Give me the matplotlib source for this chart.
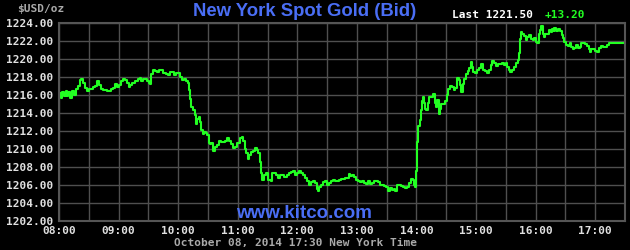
import matplotlib
matplotlib.use("Agg")
import matplotlib.pyplot as plt
import numpy as np

# minutes after 08:00 (New York time) and bid price
minutes = [0, 2, 3, 5, 7, 8, 9, 11, 13, 15, 17, 19, 21, 22, 24, 26, 28, 30, 32, 34,
           36, 38, 40, 42, 44, 46, 48, 50, 52, 54, 56, 58, 60, 62, 64, 66, 68, 70, 72, 74,
           77, 79, 80, 82, 83, 85, 87, 89, 91, 92, 93, 95, 97, 99, 101, 103, 105, 108, 110, 112,
           114, 116, 118, 120, 122, 124, 126, 128, 130, 131, 132, 133, 135, 137, 138, 139, 141, 142, 143, 145,
           146, 148, 149, 151, 152, 153, 155, 157, 159, 161, 163, 165, 167, 169, 171, 173, 175, 177, 179, 182,
           184, 185, 187, 188, 190, 191, 193, 195, 197, 199, 200, 202, 203, 204, 206, 208, 210, 212, 213, 215,
           217, 219, 221, 223, 225, 227, 230, 232, 234, 236, 238, 240, 242, 244, 246, 248, 250, 252, 254, 256,
           258, 260, 261, 262, 264, 266, 268, 270, 272, 274, 276, 278, 280, 282, 284, 286, 288, 290, 292, 293,
           295, 297, 299, 301, 303, 305, 307, 309, 311, 313, 315, 317, 319, 321, 323, 325, 327, 329, 331, 333,
           335, 337, 338, 340, 342, 344, 346, 348, 350, 352, 354, 356, 358, 359, 360, 361, 362, 363, 364, 365,
           366, 367, 368, 369, 370, 372, 373, 375, 377, 379, 380, 381, 383, 384, 385, 387, 389, 391, 392, 394,
           396, 398, 399, 401, 403, 404, 405, 407, 408, 410, 412, 413, 415, 416, 417, 419, 421, 423, 425, 427,
           429, 431, 433, 435, 436, 438, 440, 442, 444, 446, 448, 450, 451, 453, 454, 456, 458, 460, 462, 463,
           464, 465, 466, 468, 470, 471, 473, 475, 477, 478, 480, 481, 483, 484, 485, 487, 488, 489, 491, 493,
           495, 496, 498, 499, 501, 503, 505, 507, 508, 509, 511, 513, 515, 516, 518, 519, 521, 523, 525, 526,
           528, 530, 532, 534, 535, 536, 538, 540, 542, 544, 546, 548, 550, 552, 554, 556, 570]
price = [1216.20, 1215.60, 1216.30, 1215.85, 1216.40, 1215.85, 1216.30, 1215.60, 1216.45, 1216.00,
         1216.67, 1216.96, 1217.60, 1217.80, 1217.26, 1216.74, 1216.45, 1216.67, 1216.60, 1216.90,
         1216.96, 1217.50, 1217.10, 1216.60, 1216.50, 1216.50, 1216.37, 1216.45, 1216.67, 1216.80,
         1217.20, 1216.90, 1217.10, 1217.55, 1217.80, 1217.60, 1217.33, 1216.90, 1217.04, 1217.26,
         1217.55, 1217.55, 1217.80, 1217.90, 1217.50, 1217.80, 1217.70, 1217.50, 1217.33, 1217.20,
         1218.30, 1218.80, 1218.60, 1218.50, 1218.70, 1218.74, 1218.44, 1218.30, 1218.15, 1218.50,
         1218.50, 1218.20, 1218.44, 1218.37, 1218.00, 1217.63, 1217.70, 1217.55, 1217.26, 1216.50,
         1215.55, 1214.67, 1214.30, 1213.80, 1212.74, 1213.26, 1213.50, 1212.96, 1212.07, 1211.60,
         1211.85, 1211.78, 1211.50, 1210.67, 1210.50, 1210.67, 1209.70, 1210.20, 1210.44, 1210.90,
         1210.74, 1210.74, 1210.90, 1211.20, 1210.90, 1210.50, 1210.07, 1210.15, 1210.60, 1211.20,
         1211.33, 1210.90, 1210.00, 1209.48, 1208.90, 1209.33, 1209.63, 1209.78, 1210.07, 1209.85,
         1209.55, 1208.50, 1207.26, 1206.50, 1207.04, 1207.26, 1206.50, 1206.50, 1206.44, 1207.33,
         1207.33, 1207.11, 1206.80, 1207.04, 1207.11, 1206.90, 1207.04, 1207.26, 1207.40, 1207.56,
         1207.04, 1207.26, 1207.48, 1207.26, 1207.04, 1206.74, 1206.44, 1206.00, 1206.30, 1206.44,
         1206.15, 1205.56, 1205.26, 1205.70, 1206.00, 1206.30, 1206.37, 1206.00, 1206.15, 1206.44,
         1206.52, 1206.44, 1206.37, 1206.52, 1206.60, 1206.67, 1206.74, 1206.80, 1207.19, 1206.96,
         1207.11, 1206.90, 1206.52, 1206.37, 1206.30, 1206.44, 1206.22, 1206.07, 1206.37, 1206.07,
         1206.22, 1206.37, 1206.44, 1206.30, 1206.00, 1206.00, 1205.85, 1205.70, 1205.33, 1205.63,
         1205.40, 1205.56, 1205.33, 1205.93, 1206.00, 1205.85, 1205.78, 1205.63, 1205.78, 1206.22,
         1206.67, 1206.52, 1206.00, 1205.70, 1207.50, 1210.80, 1212.50, 1212.50, 1213.20, 1214.30,
         1215.26, 1215.70, 1215.04, 1214.44, 1214.30, 1215.04, 1215.78, 1215.78, 1216.07, 1215.10,
         1214.67, 1215.40, 1213.90, 1214.44, 1214.96, 1214.96, 1215.33, 1215.93, 1216.60, 1216.96,
         1216.90, 1216.50, 1216.80, 1217.85, 1217.63, 1217.04, 1216.30, 1217.20, 1217.78, 1218.30,
         1218.60, 1218.96, 1219.63, 1219.10, 1218.50, 1218.37, 1218.74, 1218.96, 1219.40, 1218.74,
         1218.67, 1218.44, 1218.74, 1219.26, 1219.78, 1219.48, 1219.18, 1219.40, 1219.40, 1219.56,
         1219.33, 1219.48, 1219.10, 1218.74, 1218.50, 1218.80, 1219.10, 1219.56, 1219.85, 1220.60,
         1222.15, 1222.96, 1222.80, 1222.50, 1222.07, 1222.37, 1222.60, 1222.22, 1222.07, 1222.30,
         1221.85, 1221.70, 1222.80, 1223.19, 1223.63, 1222.80, 1222.44, 1222.80, 1222.80, 1223.19,
         1222.96, 1223.26, 1223.11, 1223.40, 1223.11, 1223.33, 1223.11, 1222.60, 1222.30, 1221.85,
         1221.48, 1221.40, 1221.70, 1221.33, 1221.04, 1221.19, 1221.48, 1221.19, 1221.33, 1221.70,
         1221.70, 1221.63, 1221.40, 1221.11, 1220.80, 1221.04, 1221.04, 1220.90, 1220.74, 1221.19,
         1221.40, 1221.33, 1221.33, 1221.48, 1221.70, 1221.70, 1221.70]

hours = [8, 9, 10, 11, 12, 13, 14, 15, 16, 17]
yticks = [1202, 1204, 1206, 1208, 1210, 1212, 1214, 1216, 1218, 1220, 1222, 1224]
last_price = "1221.50"
change = "+13.20"

mono = "DejaVu Sans Mono"
grid_c = "#4f4f4f"
lbl_c = "#e0e0e0"
blue = "#4a6ef5"

fig = plt.figure(figsize=(6.3, 2.5), dpi=100, facecolor="black")
ax = fig.add_axes([59/630, 1-220.7/250, (625-59)/630, (220.7-22.7)/250])
ax.set_facecolor("black")

t = 8 + np.array(minutes)/60.0
ax.plot(t, price, color="#22ff22", lw=1.5, drawstyle="steps-post")

ax.set_xlim(8, 17.5)
ax.set_ylim(1202, 1224)
ax.set_xticks(hours)
ax.set_xticks(np.arange(8.5, 17.5, 1), minor=True)
ax.set_xticklabels(["%02d:00" % h for h in hours])
ax.set_yticks(yticks)
ax.set_yticklabels(["%.2f" % v for v in yticks])
ax.grid(True, which="both", color=grid_c, lw=1)
ax.tick_params(which="both", length=0, colors=lbl_c, labelsize=8, pad=4)
for lab in ax.get_xticklabels() + ax.get_yticklabels():
    lab.set_fontfamily(mono)
    lab.set_fontweight("bold")
for s in ax.spines.values():
    s.set_color("#555555")
    s.set_linewidth(1.5)

fig.text(17/630, 1-9/250, "$USD/oz", color="#aaaaaa", fontsize=8, family=mono,
         fontweight="bold", va="center", ha="left")
fig.text(305/630, 1-11.5/250, "New York Spot Gold (Bid)", color=blue, fontsize=13.3,
         family="Liberation Sans", fontweight="bold", va="center", ha="center")
fig.text(452/630, 1-15/250, "Last " + last_price, color="white", fontsize=8, family=mono,
         fontweight="bold", va="center", ha="left")
fig.text(545/630, 1-15/250, change, color="#22ff22", fontsize=8, family=mono,
         fontweight="bold", va="center", ha="left")
fig.text(304.5/630, 1-213/250, "www.kitco.com", color=blue, fontsize=13.5,
         family="Liberation Sans", fontweight="bold", va="center", ha="center")
fig.text(296/630, 1-243/250, "October 08, 2014 17:30 New York Time", color="#aaaaaa",
         fontsize=8, family=mono, fontweight="bold", va="center", ha="center")

fig.savefig("out.png", dpi=100, facecolor="black")
